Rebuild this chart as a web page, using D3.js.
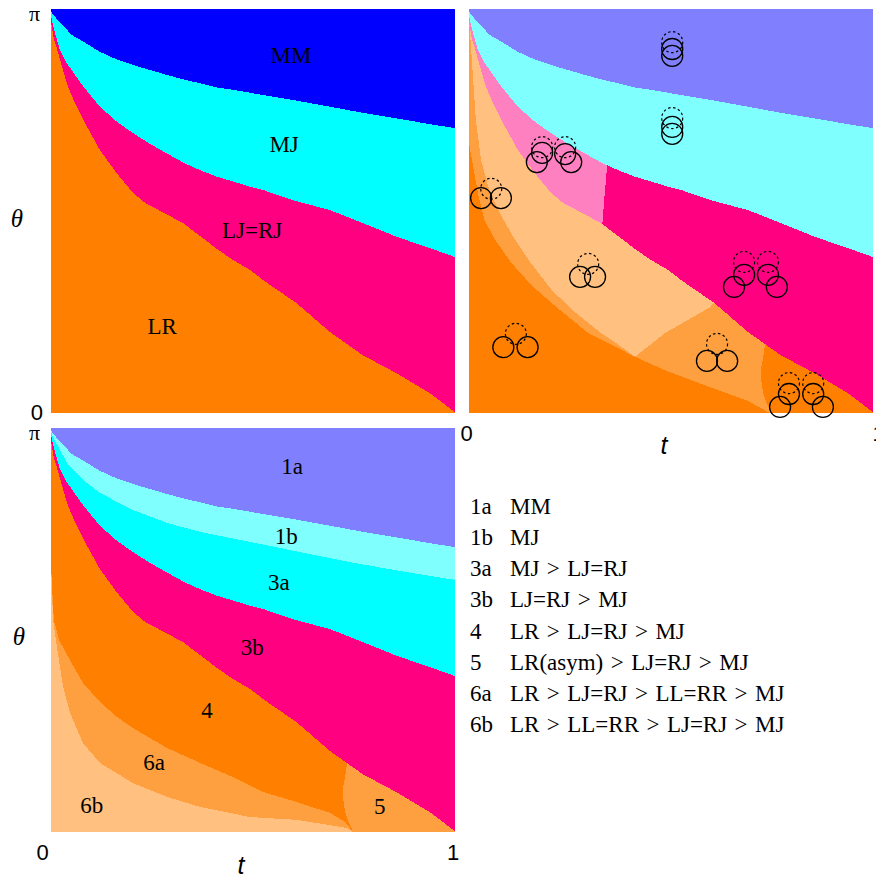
<!DOCTYPE html>
<html>
<head>
<meta charset="utf-8">
<script src="https://cdn.jsdelivr.net/npm/d3@7"></script>
<style>
  html, body { margin: 0; padding: 0; background: #fff; }
  svg { display: block; }
  .serif { font-family: "Liberation Serif", "Times New Roman", serif; }
  .sans { font-family: "Liberation Sans", Arial, sans-serif; }
  .regions path { shape-rendering: crispEdges; }
</style>
</head>
<body>
<svg id="chart" width="876" height="878"></svg>
<script>
// Phase boundaries in the (t, θ/π) plane, each as [t, θ/π] pairs.
const mmBoundary = [[0,1],[0.002,0.989],[0.051,0.936],[0.080,0.919],[0.121,0.894],[0.163,0.875],[0.204,0.861],[0.245,0.849],[0.286,0.837],[0.327,0.826],[0.369,0.816],[0.410,0.806],[0.451,0.800],[0.525,0.787],[0.609,0.773],[0.691,0.758],[0.772,0.743],[0.856,0.729],[0.938,0.715],[1,0.705]];
const mjBoundary = [[0,0.985],[0.002,0.973],[0.010,0.940],[0.022,0.899],[0.039,0.866],[0.080,0.808],[0.121,0.758],[0.163,0.721],[0.204,0.692],[0.245,0.666],[0.286,0.643],[0.327,0.620],[0.369,0.601],[0.410,0.585],[0.451,0.573],[0.493,0.560],[0.525,0.552],[0.597,0.527],[0.691,0.502],[0.772,0.470],[0.856,0.436],[0.938,0.408],[1,0.386]];
const lrBoundary = [[0,0.968],[0.006,0.931],[0.018,0.890],[0.039,0.816],[0.059,0.767],[0.080,0.725],[0.121,0.651],[0.163,0.593],[0.204,0.544],[0.233,0.520],[0.282,0.494],[0.327,0.470],[0.369,0.438],[0.411,0.406],[0.450,0.379],[0.493,0.354],[0.525,0.329],[0.609,0.271],[0.691,0.200],[0.772,0.143],[0.856,0.098],[0.938,0.049],[1,0.002]];
const mjSplitBoundary = [[0,0.995],[0.002,0.983],[0.040,0.913],[0.080,0.871],[0.121,0.839],[0.203,0.797],[0.287,0.765],[0.369,0.743],[0.493,0.718],[0.616,0.693],[0.740,0.668],[0.864,0.646],[1,0.624]];
const sixABoundary = [[0,0.668],[0.003,0.600],[0.007,0.525],[0.020,0.475],[0.040,0.438],[0.079,0.369],[0.121,0.322],[0.163,0.285],[0.203,0.257],[0.287,0.208],[0.369,0.171],[0.450,0.136],[0.525,0.099],[0.609,0.074],[0.691,0.047],[0.728,0.025],[0.748,0]];
const sixBBoundary = [[0,0.666],[0.005,0.525],[0.017,0.443],[0.030,0.359],[0.047,0.295],[0.079,0.220],[0.121,0.171],[0.203,0.121],[0.287,0.087],[0.369,0.062],[0.493,0.037],[0.609,0.030],[0.733,0.010],[0.748,0]];
const asymBoundary = [[0.735,0.185],[0.730,0.150],[0.724,0.115],[0.723,0.085],[0.727,0.055],[0.735,0.028],[0.748,0]];

// Sub-structure of the configuration map
const cfgDarkEdge = [[0,0.668],[0.012,0.600],[0.025,0.530],[0.038,0.478],[0.064,0.430],[0.106,0.370],[0.156,0.315],[0.213,0.265],[0.295,0.198],[0.411,0.139],[0.485,0.106],[0.597,0.064],[0.690,0.030],[0.745,0]];
const cfgLightEdge = [[0,0.978],[0.007,0.874],[0.017,0.725],[0.030,0.626],[0.052,0.545],[0.082,0.485],[0.110,0.435],[0.151,0.374],[0.205,0.304],[0.262,0.250],[0.324,0.200],[0.374,0.166],[0.411,0.139],[0.485,0.198],[0.597,0.262],[0.625,0.300]];
const cfgPinkSplit = [[0.330,0.466],[0.334,0.520],[0.340,0.590],[0.345,0.640],[0.347,0.700]];

// Disc configurations drawn on the configuration map: [t, θ/π]
const dashedDiscs = [[0.503,0.918],[0.503,0.730],[0.181,0.658],[0.238,0.658],[0.055,0.555],[0.295,0.369],[0.116,0.196],[0.681,0.374],[0.740,0.374],[0.614,0.171],[0.792,0.074],[0.852,0.074]];
const solidDiscs = [[0.503,0.901],[0.503,0.884],[0.503,0.708],[0.503,0.691],[0.181,0.644],[0.168,0.621],[0.238,0.641],[0.253,0.621],[0.030,0.532],[0.079,0.532],[0.275,0.337],[0.312,0.337],[0.085,0.163],[0.145,0.163],[0.681,0.342],[0.656,0.312],[0.740,0.342],[0.762,0.312],[0.589,0.129],[0.639,0.129],[0.792,0.047],[0.770,0.015],[0.852,0.047],[0.876,0.015]];

// Region names
const phaseNames = ["MM","MJ","LJ=RJ","LR"];
const phaseSpots = [[0.594,0.866],[0.577,0.646],[0.498,0.433],[0.275,0.196]];
const regionCodes = ["1a","1b","3a","3b","4","6a","6b","5"];
const regionSpots = [[0.597,0.886],[0.582,0.713],[0.564,0.599],[0.498,0.438],[0.386,0.282],[0.255,0.153],[0.101,0.047],[0.814,0.045]];
const legendCodes = ["1a","1b","3a","3b","4","5","6a","6b"];
const legendText = ["MM","MJ","MJ > LJ=RJ","LJ=RJ > MJ","LR > LJ=RJ > MJ","LR(asym) > LJ=RJ > MJ","LR > LJ=RJ > LL=RR > MJ","LR > LL=RR > LJ=RJ > MJ"];

const tTicks = [0, 1];
const tTickLabels = ["0", "1"];
const thetaTicks = [0, 1];
const thetaTickLabels = ["0", "π"];

const C = {
  blue: "#0000ff", cyan: "#00ffff", pink: "#ff0080", orange: "#ff8000",
  lblue: "#8080ff", lcyan: "#80ffff", lpink: "#ff80c0", morange: "#ffa040", lorange: "#ffc080"
};

const svg = d3.select("#chart");
const defs = svg.append("defs");

function makePanel(name, xRange, yRange) {
  const x = d3.scaleLinear().domain([0, 1]).range(xRange);
  const y = d3.scaleLinear().domain([0, 1]).range(yRange);
  defs.append("clipPath").attr("id", "clip-" + name)
    .append("rect")
    .attr("x", xRange[0]).attr("y", yRange[1])
    .attr("width", xRange[1] - xRange[0]).attr("height", yRange[0] - yRange[1]);
  const g = svg.append("g");
  const regions = g.append("g").attr("class", "regions").attr("clip-path", `url(#clip-${name})`);
  const line = d3.line().x(d => x(d[0])).y(d => y(d[1]));
  return { x, y, g, regions, line };
}

function fill(p, pts, color) {
  p.regions.append("path").attr("d", p.line(pts) + "Z").attr("fill", color);
}
const box = [[0,0],[1,0],[1,1],[0,1]];
function above(curve) {
  const last = curve[curve.length - 1];
  const pts = [[0, 1], ...curve];
  if (last[0] < 1) pts.push([1, last[1]]);
  pts.push([1, 1]);
  return pts;
}
function below(curve) {
  const last = curve[curve.length - 1];
  return [[0, 0], ...curve, [last[0], 0]];
}
function asymPocket() {
  const top = asymBoundary[0];
  return [...asymBoundary, [1, 0], [1, top[1]]];
}

function thetaAxis(p, showZero) {
  const vals = showZero ? thetaTicks : thetaTicks.slice(1);
  const ax = p.g.append("g")
    .attr("transform", `translate(${p.x(0)},0)`)
    .call(d3.axisLeft(p.y).tickValues(vals).tickSize(0).tickPadding(8)
      .tickFormat(d => thetaTickLabels[thetaTicks.indexOf(d)]));
  ax.select(".domain").remove();
  ax.selectAll("text").attr("fill", "#000").style("font-size", "22px")
    .attr("class", d => d === 1 ? "serif" : "sans")
    .attr("font-family", null)
    .attr("dx", d => d === 1 ? -3 : 0)
    .attr("dy", d => d === 1 ? "0.5em" : "0.28em");
}
function tAxis(p, dxs) {
  const ax = p.g.append("g")
    .attr("transform", `translate(0,${p.y(0)})`)
    .call(d3.axisBottom(p.x).tickValues(tTicks).tickSize(0).tickPadding(12)
      .tickFormat(d => tTickLabels[tTicks.indexOf(d)]));
  ax.select(".domain").remove();
  ax.selectAll("text").attr("fill", "#000").style("font-size", "22px")
    .attr("class", "sans").attr("font-family", null)
    .attr("dx", (d, i) => dxs[i]);
}
function italicLabel(text, x, y, family) {
  svg.append("text").attr("x", x).attr("y", y)
    .attr("text-anchor", "middle")
    .style("font-family", family).style("font-style", "italic").style("font-size", "25px")
    .text(text);
}

// ---- Panel 1: ground-state phases ----
const p1 = makePanel("phase", [51, 455], [413, 9]);
fill(p1, box, C.orange);
fill(p1, above(lrBoundary), C.pink);
fill(p1, above(mjBoundary), C.cyan);
fill(p1, above(mmBoundary), C.blue);
p1.g.selectAll(".name").data(phaseNames).join("text")
  .attr("class", "serif").attr("text-anchor", "middle").style("font-size", "23px")
  .attr("x", (d, i) => p1.x(phaseSpots[i][0])).attr("y", (d, i) => p1.y(phaseSpots[i][1]))
  .text(d => d);
thetaAxis(p1, true);
italicLabel("θ", 17, 227, "'Liberation Serif', serif");

// ---- Panel 2: configuration map ----
const p2 = makePanel("config", [469, 873], [413, 9]);
fill(p2, box, C.orange);
fill(p2, above(cfgDarkEdge), C.morange);
fill(p2, [[0, 1], ...cfgLightEdge, [1, cfgLightEdge[cfgLightEdge.length - 1][1]], [1, 1]], C.lorange);
fill(p2, asymPocket(), C.orange);
fill(p2, above(lrBoundary), C.pink);
fill(p2, [[0, 1], ...lrBoundary.filter(d => d[0] < cfgPinkSplit[0][0]), ...cfgPinkSplit, [cfgPinkSplit[cfgPinkSplit.length - 1][0], 1]], C.lpink);
fill(p2, above(mjBoundary), C.lcyan);
fill(p2, above(mmBoundary), C.lblue);
const discR = 10.5;
p2.g.append("g").selectAll("circle").data(dashedDiscs).join("circle")
  .attr("cx", d => p2.x(d[0])).attr("cy", d => p2.y(d[1])).attr("r", discR)
  .attr("fill", "none").attr("stroke", "#000").attr("stroke-width", 1.2)
  .attr("stroke-dasharray", "2.5,2.5");
p2.g.append("g").selectAll("circle").data(solidDiscs).join("circle")
  .attr("cx", d => p2.x(d[0])).attr("cy", d => p2.y(d[1])).attr("r", discR)
  .attr("fill", "none").attr("stroke", "#000").attr("stroke-width", 1.3);
tAxis(p2, [-3, 5]);
italicLabel("t", 664, 454, "'Liberation Sans', sans-serif");

// ---- Panel 3: detailed phase diagram ----
const p3 = makePanel("detail", [51, 455], [832, 428]);
fill(p3, box, C.orange);
fill(p3, below(sixABoundary), C.morange);
fill(p3, below(sixBBoundary), C.lorange);
fill(p3, asymPocket(), C.morange);
fill(p3, above(lrBoundary), C.pink);
fill(p3, above(mjBoundary), C.cyan);
fill(p3, above(mjSplitBoundary), C.lcyan);
fill(p3, above(mmBoundary), C.lblue);
p3.g.selectAll(".code").data(regionCodes).join("text")
  .attr("class", "serif").attr("text-anchor", "middle").style("font-size", "23px")
  .attr("x", (d, i) => p3.x(regionSpots[i][0])).attr("y", (d, i) => p3.y(regionSpots[i][1]))
  .text(d => d);
thetaAxis(p3, false);
tAxis(p3, [-9, -2.5]);
italicLabel("θ", 19, 645, "'Liberation Serif', serif");
italicLabel("t", 241, 874, "'Liberation Sans', sans-serif");

// ---- Legend ----
const ly = d3.scalePoint().domain(legendCodes).range([514, 732]);
const legend = svg.append("g").attr("class", "serif").style("font-size", "23px").style("word-spacing", "1.7px");
legend.selectAll(".lc").data(legendCodes).join("text")
  .attr("x", 470).attr("y", d => ly(d)).text(d => d);
legend.selectAll(".lt").data(legendCodes).join("text")
  .attr("x", 510).attr("y", d => ly(d)).text((d, i) => legendText[i]);
</script>
</body>
</html>
